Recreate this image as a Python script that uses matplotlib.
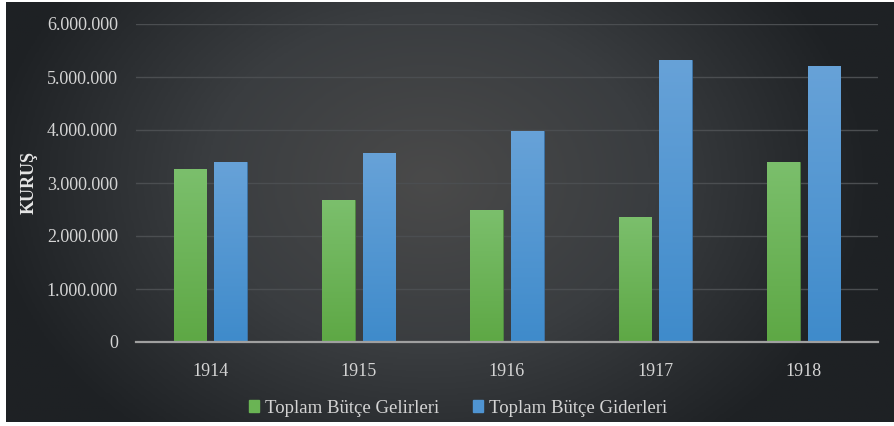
import numpy as np
import matplotlib
matplotlib.use("Agg")
import matplotlib.pyplot as plt
from matplotlib.colors import LinearSegmentedColormap
from matplotlib.patches import Patch
from matplotlib.ticker import FuncFormatter

years = ["1914", "1915", "1916", "1917", "1918"]
gelir = [3260000, 2670000, 2490000, 2350000, 3400000]
gider = [3400000, 3560000, 3980000, 5330000, 5210000]
yticks = [0, 1000000, 2000000, 3000000, 4000000, 5000000, 6000000]

plt.rcParams['font.family'] = ['Liberation Serif', 'DejaVu Serif']

fig = plt.figure(figsize=(8.95, 4.26), dpi=100)
fig.patch.set_facecolor('white')

# dark radial background panel
bg = fig.add_axes([6/895, 4/426, 889/895, 420/426])
bg.set_axis_off()
xx, yy = np.meshgrid(np.linspace(-1, 1, 400), np.linspace(-1, 1, 200))
r = np.sqrt(((xx + 0.05) / 1.0) ** 2 + ((yy + 0.15) / 1.6) ** 2)
r = np.clip(r, 0, 1)
cmap_bg = LinearSegmentedColormap.from_list('bg', ['#4a4a4a', '#3a3d40', '#1e2124'])
bg.imshow(r, cmap=cmap_bg, aspect='auto', extent=[0, 1, 0, 1], vmin=0, vmax=1)
bg.set_xlim(0, 1)
bg.set_ylim(0, 1)

ax = fig.add_axes([136/895, 84/426, 742/895, 318/426])
ax.patch.set_alpha(0)

x = np.arange(len(years))
w = 0.22
off = 0.137
b1 = ax.bar(x - off, gelir, w, color='#6ab454', edgecolor='#4f8a40', linewidth=0.6, zorder=3)
b2 = ax.bar(x + off, gider, w, color='#4f94d2', edgecolor='#3d74a8', linewidth=0.6, zorder=3)

green = LinearSegmentedColormap.from_list('g', ['#5ea845', '#7bbf6c'])
blue = LinearSegmentedColormap.from_list('b', ['#3f8bcb', '#67a2d8'])
grad = np.linspace(0, 1, 100).reshape(-1, 1)
for bars, cm in ((b1, green), (b2, blue)):
    for b in bars:
        x0, y0 = b.get_x(), b.get_y()
        im = ax.imshow(grad, cmap=cm, aspect='auto', origin='lower',
                       extent=[x0, x0 + b.get_width(), y0, y0 + b.get_height()], zorder=3.5)
        im.set_clip_path(b)

ax.set_xlim(-0.5, len(years) - 0.5)
ax.set_ylim(0, 6000000)
ax.set_yticks(yticks)
ax.yaxis.set_major_formatter(FuncFormatter(lambda v, p: '{:,.0f}'.format(v).replace(',', '.')))
ax.set_xticks(x)
ax.set_xticklabels(years)
ax.grid(axis='y', color='#4b4e51', linewidth=1.0, zorder=0)
for s in ['top', 'right', 'left']:
    ax.spines[s].set_visible(False)
ax.spines['bottom'].set_color('#a0a0a0')
ax.spines['bottom'].set_linewidth(1.6)
ax.spines['bottom'].set_zorder(4)
ax.tick_params(axis='both', length=0, colors='#d4d4d4', labelsize=13)
ax.tick_params(axis='y', pad=13)
ax.tick_params(axis='x', pad=15)
ax.set_ylabel('KURUŞ', color='#e6e6e6', fontsize=13, fontweight='bold')
ax.yaxis.set_label_coords(-0.132, 0.5)

handles = [Patch(color='#6ab454', label='Toplam Bütçe Gelirleri'),
           Patch(color='#4f94d2', label='Toplam Bütçe Giderleri')]
fig.legend(handles=handles, loc='center', bbox_to_anchor=(0.512, 0.042), ncol=2,
           frameon=False, fontsize=13.5, labelcolor='#d4d4d4', handlelength=0.55,
           handleheight=0.55, handletextpad=0.3, columnspacing=1.8)

fig.savefig('out.png', dpi=100)
